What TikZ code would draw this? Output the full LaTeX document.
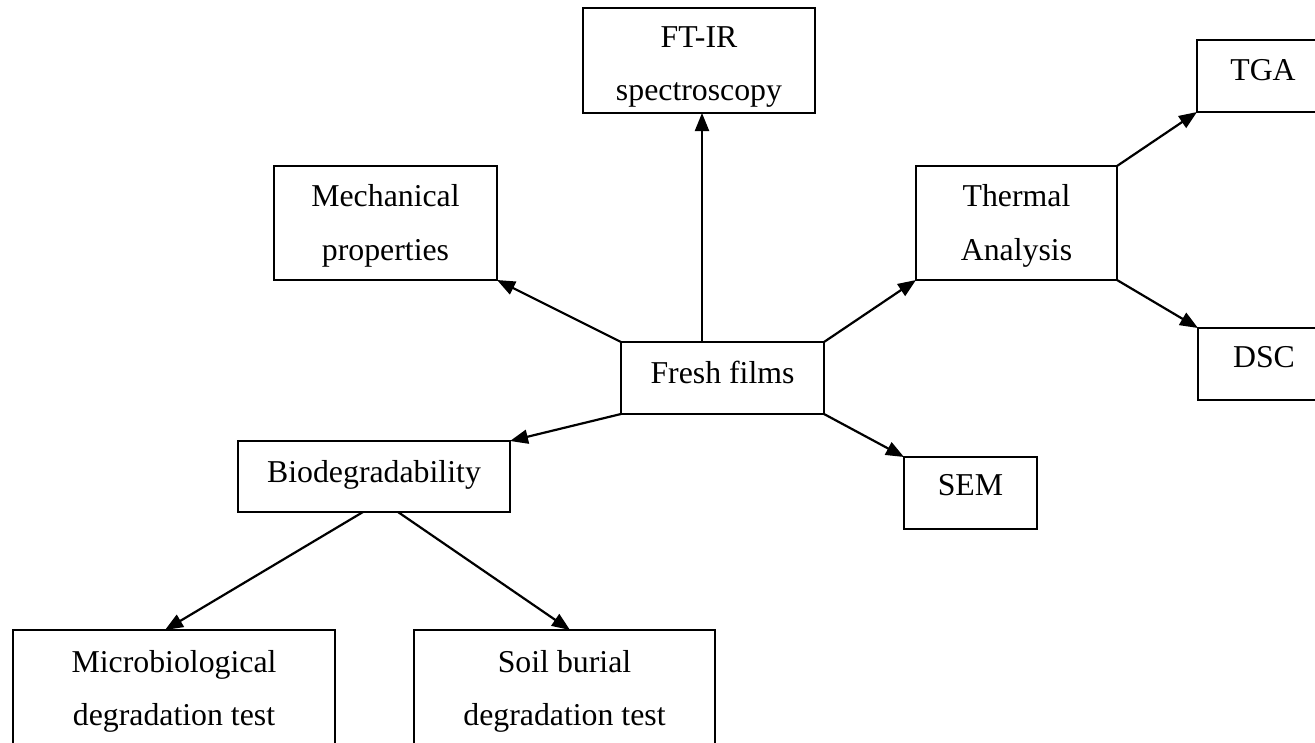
\documentclass[tikz,border=0pt]{standalone}
\usepackage{fontspec}
\setmainfont{Liberation Serif}
\usetikzlibrary{arrows.meta}
\begin{document}
\begin{tikzpicture}[x=1pt,y=-1pt,
  box/.style={draw, rectangle, line width=2pt, inner sep=0pt, outer sep=0pt},
  lbl/.style={anchor=base, inner sep=0pt, font=\fontsize{31.8}{38}\selectfont},
  conn/.style={line width=2.2pt, -{Triangle[length=18pt,width=14pt]}}]
\useasboundingbox (0,0) rectangle (1315,742);
\clip (0,0) rectangle (1315,742);

% boxes
\node[box, minimum width=232pt, minimum height=105pt] (ftir)  at (699,60.5) {};
\node[box, minimum width=133pt, minimum height=72pt]  (tga)   at (1263.5,76) {};
\node[box, minimum width=132pt, minimum height=72pt]  (dsc)   at (1264,364) {};
\node[box, minimum width=223pt, minimum height=114pt] (mech)  at (385.5,223) {};
\node[box, minimum width=201pt, minimum height=114pt] (therm) at (1016.5,223) {};
\node[box, minimum width=203pt, minimum height=72pt]  (fresh) at (722.5,378) {};
\node[box, minimum width=272pt, minimum height=71pt]  (bio)   at (374,476.5) {};
\node[box, minimum width=133pt, minimum height=72pt]  (sem)   at (970.5,493) {};
\node[box, minimum width=322pt, minimum height=130pt] (micro) at (174,695) {};
\node[box, minimum width=301pt, minimum height=130pt] (soil)  at (564.5,695) {};

% labels
\node[lbl] (ftir1)  at (699,47)    {FT-IR};
\node[lbl] (ftir2)  at (699,100)   {spectroscopy};
\node[lbl] (tga1)   at (1263,80)   {TGA};
\node[lbl] (dsc1)   at (1264,367)  {DSC};
\node[lbl] (mech1)  at (385.5,206) {Mechanical};
\node[lbl] (mech2)  at (385.5,260) {properties};
\node[lbl] (therm1) at (1016.5,206) {Thermal};
\node[lbl] (therm2) at (1016.5,260) {Analysis};
\node[lbl] (fresh1) at (722.5,383) {Fresh films};
\node[lbl] (bio1)   at (374,482)   {Biodegradability};
\node[lbl] (sem1)   at (970.5,495) {SEM};
\node[lbl] (micro1) at (174,672)   {Microbiological};
\node[lbl] (micro2) at (174,725)   {degradation test};
\node[lbl] (soil1)  at (564.5,672) {Soil burial};
\node[lbl] (soil2)  at (564.5,725) {degradation test};

% connectors
\draw[conn] ([xshift=81pt]fresh.north west) -- ([xshift=81pt]fresh.north west |- ftir.south);
\draw[conn] (fresh.north west) -- (mech.south east);
\draw[conn] (fresh.north east) -- (therm.south west);
\draw[conn] (fresh.south west) -- (bio.north east);
\draw[conn] (fresh.south east) -- (sem.north west);
\draw[conn] (therm.north east) -- (tga.south west);
\draw[conn] (therm.south east) -- (dsc.north west);
\draw[conn] ([xshift=125pt]bio.south west) -- ([xshift=152pt]micro.north west);
\draw[conn] ([xshift=160pt]bio.south west) -- ([xshift=156pt]soil.north west);
\end{tikzpicture}
\end{document}
